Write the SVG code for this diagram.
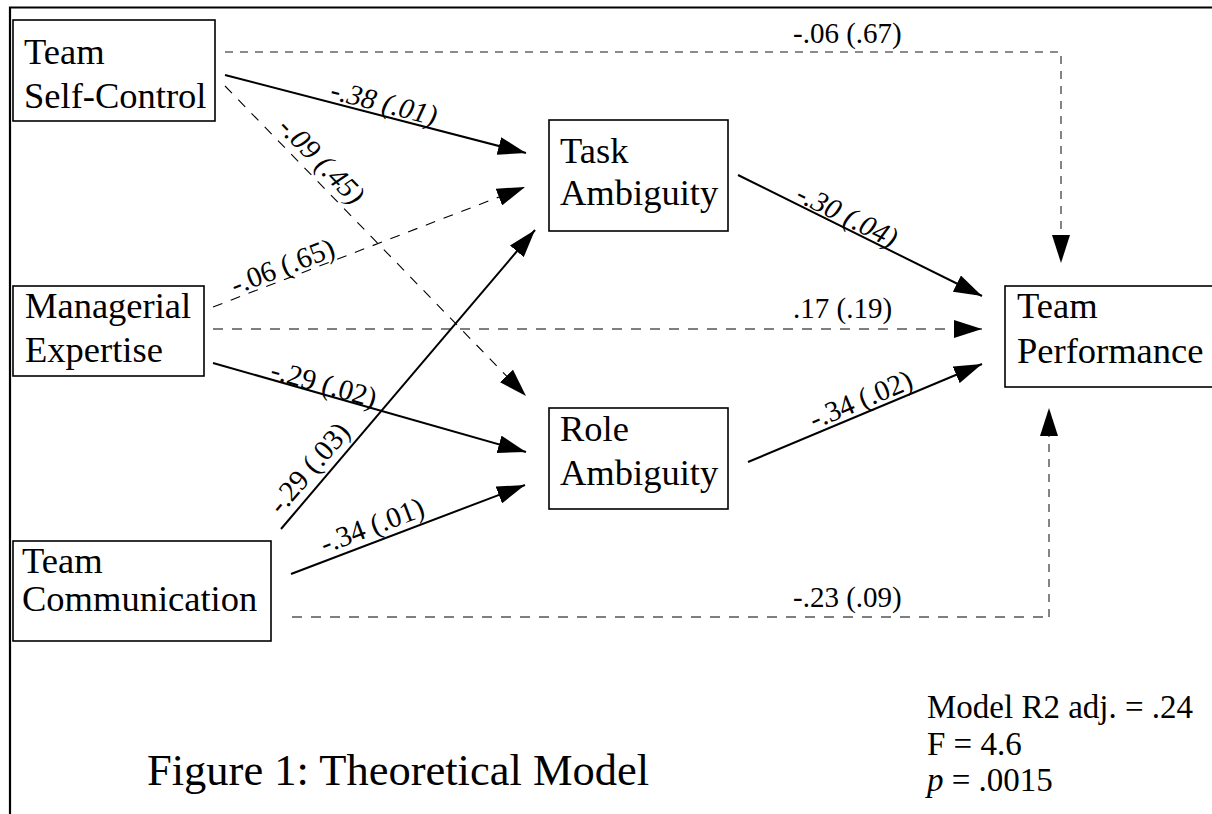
<svg xmlns="http://www.w3.org/2000/svg" width="1212" height="814" viewBox="0 0 1212 814">
<style>
.bg{fill:#fff}
.frame{stroke:#000;stroke-width:2.2;fill:none}
.box{fill:#fff;stroke:#000;stroke-width:1.6}
.nt{font-family:"Liberation Serif","Times New Roman",serif;font-size:36.5px;fill:#000}
.lbl{font-family:"Liberation Serif","Times New Roman",serif;font-size:29px;fill:#000}
.it{font-style:italic}
.solid{stroke:#000;stroke-width:2;fill:none}
.dash{stroke:#000;stroke-width:1.1;fill:none;stroke-dasharray:10 9}
.gdash{stroke:#666;stroke-width:1.6;fill:none;stroke-dasharray:8 7}
.cap{font-family:"Liberation Serif","Times New Roman",serif;font-size:44.5px;fill:#000}
.stat{font-family:"Liberation Serif","Times New Roman",serif;font-size:33px;fill:#000}
</style>
<defs>
<marker id="ah" markerUnits="userSpaceOnUse" markerWidth="28" markerHeight="18" refX="28" refY="9" orient="auto">
<path d="M0,0 L28,9 L0,18 z" fill="#000"/>
</marker>
</defs>
<rect class="bg" x="0" y="0" width="1212" height="814"/>
<path class="frame" d="M10,814 L10,7.5 L1212,7.5"/>

<g id="connectors">
<path class="gdash" d="M225,52 L1061,52 L1061,263" marker-end="url(#ah)"/>
<line class="solid" x1="225" y1="75" x2="526" y2="153" marker-end="url(#ah)"/>
<line class="dash" x1="225" y1="86" x2="526" y2="396" marker-end="url(#ah)"/>
<line class="dash" x1="213" y1="307" x2="525" y2="187" marker-end="url(#ah)"/>
<line class="dash" x1="213" y1="329" x2="982" y2="329" marker-end="url(#ah)"/>
<line class="solid" x1="213" y1="363" x2="526" y2="452" marker-end="url(#ah)"/>
<line class="solid" x1="281" y1="529" x2="535" y2="230" marker-end="url(#ah)"/>
<line class="solid" x1="291" y1="574" x2="525" y2="485" marker-end="url(#ah)"/>
<path class="dash" d="M292,617 L1049,617"/>
<path class="gdash" d="M1049,617 L1049,408" marker-end="url(#ah)"/>
<line class="solid" x1="738" y1="175" x2="982" y2="296" marker-end="url(#ah)"/>
<line class="solid" x1="748" y1="462" x2="982" y2="364" marker-end="url(#ah)"/>

<text class="lbl" x="793" y="43">-.06 (.67)</text>
<text class="lbl it" text-anchor="middle" transform="translate(381,115) rotate(14.5)" y="-3">-.38 (.01)</text>
<text class="lbl it" text-anchor="middle" transform="translate(309,173) rotate(45.8)" y="-8">-.09 (.45)</text>
<text class="lbl" text-anchor="middle" transform="translate(287,278) rotate(-21)" y="-3">-.06 (.65)</text>
<text class="lbl" x="793" y="318">.17 (.19)</text>
<text class="lbl" text-anchor="middle" transform="translate(321,394) rotate(15.9)" y="-1">-.29 (.02)</text>
<text class="lbl" text-anchor="middle" transform="translate(323,480) rotate(-49.6)" y="-9">-.29 (.03)</text>
<text class="lbl" text-anchor="middle" transform="translate(378,541) rotate(-20.8)" y="-7">-.34 (.01)</text>
<text class="lbl" x="793" y="607">-.23 (.09)</text>
<text class="lbl it" text-anchor="middle" transform="translate(842,226) rotate(26.4)" y="-2">-.30 (.04)</text>
<text class="lbl" text-anchor="middle" transform="translate(866,412) rotate(-22.7)" y="-4">-.34 (.02)</text>
</g>

<g id="team-self-control">
<rect class="box" x="13" y="20" width="202" height="101"/>
<text class="nt" x="24" y="64">Team</text>
<text class="nt" x="24" y="108">Self-Control</text>
</g>
<g id="managerial-expertise">
<rect class="box" x="13" y="286" width="191" height="90"/>
<text class="nt" x="25" y="318">Managerial</text>
<text class="nt" x="25" y="362">Expertise</text>
</g>
<g id="team-communication">
<rect class="box" x="13" y="541" width="258" height="100"/>
<text class="nt" x="22" y="573">Team</text>
<text class="nt" x="22" y="611">Communication</text>
</g>
<g id="task-ambiguity">
<rect class="box" x="549" y="120" width="179" height="111"/>
<text class="nt" x="560" y="163">Task</text>
<text class="nt" x="560" y="205">Ambiguity</text>
</g>
<g id="role-ambiguity">
<rect class="box" x="549" y="408" width="179" height="101"/>
<text class="nt" x="560" y="441">Role</text>
<text class="nt" x="560" y="485">Ambiguity</text>
</g>
<g id="team-performance">
<rect class="box" x="1005" y="286" width="212" height="101"/>
<text class="nt" x="1017" y="318">Team</text>
<text class="nt" x="1017" y="363">Performance</text>
</g>

<text class="cap" x="147" y="785">Figure 1: Theoretical Model</text>
<text class="stat" x="927" y="718">Model R2 adj. = .24</text>
<text class="stat" x="927" y="755">F = 4.6</text>
<text class="stat" x="927" y="791"><tspan font-style="italic">p</tspan> = .0015</text>
</svg>
